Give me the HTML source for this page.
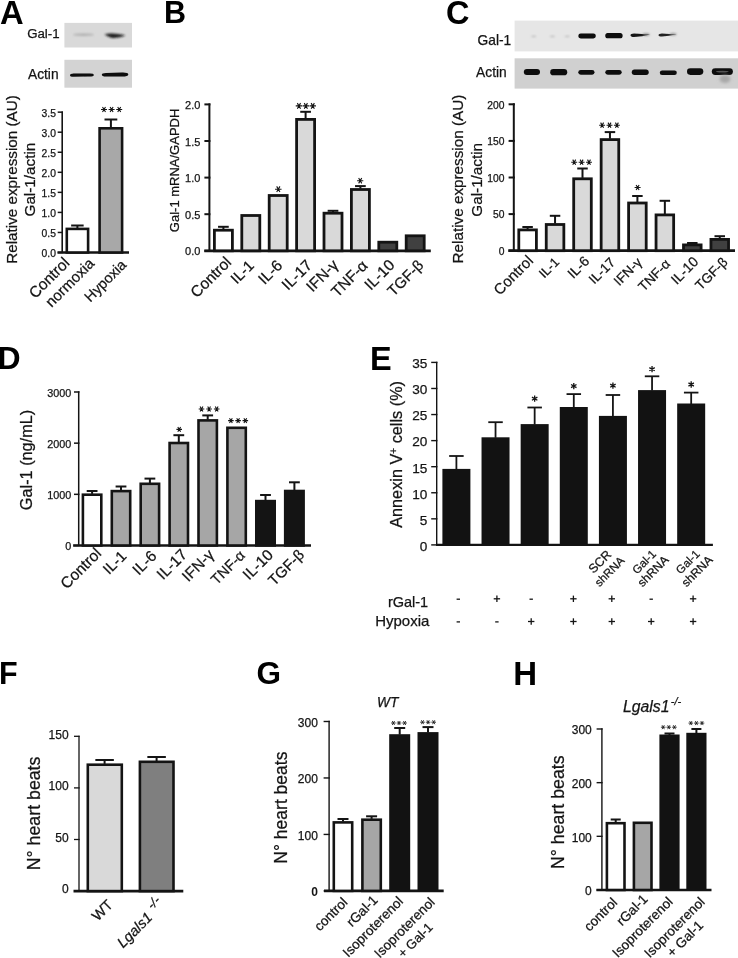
<!DOCTYPE html><html><head><meta charset="utf-8"><style>html,body{margin:0;padding:0;background:#fff;width:738px;height:958px;overflow:hidden}svg{display:block;filter:grayscale(1)}text{font-family:"Liberation Sans",sans-serif}</style></head><body><svg width="738" height="958" viewBox="0 0 738 958" font-family="Liberation Sans, sans-serif">
<defs><filter id="bl" x="-50%" y="-100%" width="200%" height="300%"><feGaussianBlur stdDeviation="0.8"/></filter><filter id="bl3" x="-50%" y="-100%" width="200%" height="300%"><feGaussianBlur stdDeviation="0.55"/></filter><filter id="bl2" x="-50%" y="-100%" width="200%" height="300%"><feGaussianBlur stdDeviation="1.5"/></filter></defs>
<rect width="738" height="958" fill="#fff"/>
<text x="-0.10" y="23.60" font-size="32.75" text-anchor="start" font-weight="bold" fill="#000">A</text>
<rect x="64.40" y="22.90" width="67.60" height="24.60" fill="#d9d9d9"/>
<rect x="64.40" y="59.80" width="67.60" height="27.90" fill="#d3d3d3"/>
<text x="27.20" y="37.50" font-size="13.25" text-anchor="start" fill="#141414" stroke="#141414" stroke-width="0.25">Gal-1</text>
<text x="28.00" y="78.50" font-size="13.75" text-anchor="start" fill="#141414" stroke="#141414" stroke-width="0.25">Actin</text>
<ellipse cx="83.5" cy="34.7" rx="10.5" ry="1.3" fill="#b0b0b0" filter="url(#bl)"/>
<path d="M104.5,34.2 Q113,32.6 125.5,35.2 Q119,38.6 112,38 Q107,36.6 104.5,34.2Z" fill="#1c1c1c" filter="url(#bl)"/>
<path d="M70,75.2 Q70,73.4 74,73.5 L88,73.6 Q93.8,73.2 93.8,75.0 Q93.8,76.8 88,76.6 L74,76.7 Q70,76.8 70,75.2Z" fill="#0c0c0c" filter="url(#bl3)"/>
<path d="M101.8,74.8 Q101.8,73.2 106,73.1 L122,72.6 Q128.3,72.4 128.3,74.4 Q128.3,76.5 122,76.5 L106,76.6 Q101.8,76.6 101.8,74.8Z" fill="#0c0c0c" filter="url(#bl3)"/>
<line x1="62.20" y1="111.40" x2="62.20" y2="252.50" stroke="#141414" stroke-width="1.6"/>
<line x1="57.70" y1="252.50" x2="63.00" y2="252.50" stroke="#141414" stroke-width="1.5"/>
<text x="55.90" y="256.89" font-size="10.3" text-anchor="end" fill="#141414" stroke="#141414" stroke-width="0.25">0.0</text>
<line x1="57.70" y1="232.45" x2="63.00" y2="232.45" stroke="#141414" stroke-width="1.5"/>
<text x="55.90" y="236.84" font-size="10.3" text-anchor="end" fill="#141414" stroke="#141414" stroke-width="0.25">0.5</text>
<line x1="57.70" y1="212.40" x2="63.00" y2="212.40" stroke="#141414" stroke-width="1.5"/>
<text x="55.90" y="216.79" font-size="10.3" text-anchor="end" fill="#141414" stroke="#141414" stroke-width="0.25">1.0</text>
<line x1="57.70" y1="192.35" x2="63.00" y2="192.35" stroke="#141414" stroke-width="1.5"/>
<text x="55.90" y="196.74" font-size="10.3" text-anchor="end" fill="#141414" stroke="#141414" stroke-width="0.25">1.5</text>
<line x1="57.70" y1="172.30" x2="63.00" y2="172.30" stroke="#141414" stroke-width="1.5"/>
<text x="55.90" y="176.69" font-size="10.3" text-anchor="end" fill="#141414" stroke="#141414" stroke-width="0.25">2.0</text>
<line x1="57.70" y1="152.25" x2="63.00" y2="152.25" stroke="#141414" stroke-width="1.5"/>
<text x="55.90" y="156.64" font-size="10.3" text-anchor="end" fill="#141414" stroke="#141414" stroke-width="0.25">2.5</text>
<line x1="57.70" y1="132.20" x2="63.00" y2="132.20" stroke="#141414" stroke-width="1.5"/>
<text x="55.90" y="136.59" font-size="10.3" text-anchor="end" fill="#141414" stroke="#141414" stroke-width="0.25">3.0</text>
<line x1="57.70" y1="112.15" x2="63.00" y2="112.15" stroke="#141414" stroke-width="1.5"/>
<text x="55.90" y="116.54" font-size="10.3" text-anchor="end" fill="#141414" stroke="#141414" stroke-width="0.25">3.5</text>
<line x1="57.50" y1="252.50" x2="129.00" y2="252.50" stroke="#141414" stroke-width="2.4"/>
<rect x="66.80" y="228.90" width="21.30" height="23.60" fill="#fff" stroke="#141414" stroke-width="2.6"/>
<line x1="77.40" y1="228.10" x2="77.40" y2="225.50" stroke="#141414" stroke-width="2.0"/>
<line x1="71.15" y1="225.50" x2="83.65" y2="225.50" stroke="#141414" stroke-width="2.0"/>
<rect x="99.60" y="128.30" width="22.50" height="124.20" fill="#a8a8a8" stroke="#141414" stroke-width="2.6"/>
<line x1="110.90" y1="127.50" x2="110.90" y2="119.50" stroke="#141414" stroke-width="2.0"/>
<line x1="104.50" y1="119.50" x2="117.30" y2="119.50" stroke="#141414" stroke-width="2.0"/>
<path d="M101.00,109.50L107.00,109.50M102.50,106.90L105.50,112.10M105.50,106.90L102.50,112.10" stroke="#141414" stroke-width="1.1" fill="none"/>
<path d="M108.60,109.50L114.60,109.50M110.10,106.90L113.10,112.10M113.10,106.90L110.10,112.10" stroke="#141414" stroke-width="1.1" fill="none"/>
<path d="M116.20,109.50L122.20,109.50M117.70,106.90L120.70,112.10M120.70,106.90L117.70,112.10" stroke="#141414" stroke-width="1.1" fill="none"/>
<text x="0.00" y="0.00" font-size="15.25" text-anchor="middle" fill="#141414" stroke="#141414" stroke-width="0.25" transform="translate(16.80,179.50) rotate(-90)">Relative expression (AU)</text>
<text x="0.00" y="0.00" font-size="15.25" text-anchor="middle" fill="#141414" stroke="#141414" stroke-width="0.25" transform="translate(35.20,179.60) rotate(-90)">Gal-1/actin</text>
<text x="0.00" y="0.00" font-size="15.5" text-anchor="end" fill="#141414" stroke="#141414" stroke-width="0.25" transform="translate(70.50,263.90) rotate(-45)">Control</text>
<text x="0.00" y="0.00" font-size="15.0" text-anchor="end" fill="#141414" stroke="#141414" stroke-width="0.25" transform="translate(95.20,264.40) rotate(-45)">normoxia</text>
<text x="0.00" y="0.00" font-size="14.5" text-anchor="end" fill="#141414" stroke="#141414" stroke-width="0.25" transform="translate(127.30,265.70) rotate(-45)">Hypoxia</text>
<text x="164.10" y="23.40" font-size="30.5" text-anchor="start" font-weight="bold" fill="#000">B</text>
<line x1="209.40" y1="103.40" x2="209.40" y2="250.80" stroke="#141414" stroke-width="2.0"/>
<line x1="204.40" y1="250.80" x2="210.40" y2="250.80" stroke="#141414" stroke-width="2.0"/>
<text x="200.40" y="255.44" font-size="11" text-anchor="end" fill="#141414" stroke="#141414" stroke-width="0.25">0.0</text>
<line x1="204.40" y1="214.20" x2="210.40" y2="214.20" stroke="#141414" stroke-width="2.0"/>
<text x="200.40" y="218.84" font-size="11" text-anchor="end" fill="#141414" stroke="#141414" stroke-width="0.25">0.5</text>
<line x1="204.40" y1="177.60" x2="210.40" y2="177.60" stroke="#141414" stroke-width="2.0"/>
<text x="200.40" y="182.24" font-size="11" text-anchor="end" fill="#141414" stroke="#141414" stroke-width="0.25">1.0</text>
<line x1="204.40" y1="141.00" x2="210.40" y2="141.00" stroke="#141414" stroke-width="2.0"/>
<text x="200.40" y="145.64" font-size="11" text-anchor="end" fill="#141414" stroke="#141414" stroke-width="0.25">1.5</text>
<line x1="204.40" y1="104.40" x2="210.40" y2="104.40" stroke="#141414" stroke-width="2.0"/>
<text x="200.40" y="109.04" font-size="11" text-anchor="end" fill="#141414" stroke="#141414" stroke-width="0.25">2.0</text>
<line x1="204.30" y1="250.80" x2="430.80" y2="250.80" stroke="#141414" stroke-width="2.8"/>
<rect x="214.40" y="230.20" width="18.00" height="20.60" fill="#fff" stroke="#141414" stroke-width="2.8"/>
<line x1="223.40" y1="229.30" x2="223.40" y2="226.80" stroke="#141414" stroke-width="2.0"/>
<line x1="218.05" y1="226.80" x2="228.75" y2="226.80" stroke="#141414" stroke-width="2.0"/>
<rect x="241.80" y="215.50" width="18.00" height="35.30" fill="#d9d9d9" stroke="#141414" stroke-width="2.8"/>
<rect x="269.20" y="195.50" width="18.00" height="55.30" fill="#d9d9d9" stroke="#141414" stroke-width="2.8"/>
<rect x="296.60" y="119.40" width="18.00" height="131.40" fill="#d9d9d9" stroke="#141414" stroke-width="2.8"/>
<line x1="305.60" y1="118.50" x2="305.60" y2="111.80" stroke="#141414" stroke-width="2.0"/>
<line x1="300.25" y1="111.80" x2="310.95" y2="111.80" stroke="#141414" stroke-width="2.0"/>
<rect x="324.00" y="213.20" width="18.00" height="37.60" fill="#d9d9d9" stroke="#141414" stroke-width="2.8"/>
<line x1="333.00" y1="212.30" x2="333.00" y2="210.80" stroke="#141414" stroke-width="2.0"/>
<line x1="327.65" y1="210.80" x2="338.35" y2="210.80" stroke="#141414" stroke-width="2.0"/>
<rect x="351.40" y="189.50" width="18.00" height="61.30" fill="#d9d9d9" stroke="#141414" stroke-width="2.8"/>
<line x1="360.40" y1="188.60" x2="360.40" y2="186.10" stroke="#141414" stroke-width="2.0"/>
<line x1="355.05" y1="186.10" x2="365.75" y2="186.10" stroke="#141414" stroke-width="2.0"/>
<rect x="378.80" y="242.20" width="18.00" height="8.60" fill="#404040" stroke="#141414" stroke-width="2.8"/>
<rect x="406.20" y="235.80" width="18.00" height="15.00" fill="#404040" stroke="#141414" stroke-width="2.8"/>
<path d="M275.05,189.20L281.55,189.20M276.68,186.39L279.93,192.01M279.93,186.39L276.68,192.01" stroke="#141414" stroke-width="1.1" fill="none"/>
<path d="M295.75,105.90L302.15,105.90M297.35,103.13L300.55,108.67M300.55,103.13L297.35,108.67" stroke="#141414" stroke-width="1.1" fill="none"/>
<path d="M302.65,105.90L309.05,105.90M304.25,103.13L307.45,108.67M307.45,103.13L304.25,108.67" stroke="#141414" stroke-width="1.1" fill="none"/>
<path d="M309.55,105.90L315.95,105.90M311.15,103.13L314.35,108.67M314.35,103.13L311.15,108.67" stroke="#141414" stroke-width="1.1" fill="none"/>
<path d="M357.10,180.70L363.30,180.70M358.65,178.02L361.75,183.38M361.75,178.02L358.65,183.38" stroke="#141414" stroke-width="1.1" fill="none"/>
<text x="0.00" y="0.00" font-size="13.0" text-anchor="middle" fill="#141414" stroke="#141414" stroke-width="0.25" transform="translate(178.60,170.40) rotate(-90)">Gal-1 mRNA/GAPDH</text>
<text x="0.00" y="0.00" font-size="15.5" text-anchor="end" fill="#141414" stroke="#141414" stroke-width="0.25" transform="translate(232.20,263.20) rotate(-45)">Control</text>
<text x="0.00" y="0.00" font-size="15.0" text-anchor="end" fill="#141414" stroke="#141414" stroke-width="0.25" transform="translate(255.00,266.50) rotate(-45)">IL-1</text>
<text x="0.00" y="0.00" font-size="15.5" text-anchor="end" fill="#141414" stroke="#141414" stroke-width="0.25" transform="translate(283.40,266.40) rotate(-45)">IL-6</text>
<text x="0.00" y="0.00" font-size="15.5" text-anchor="end" fill="#141414" stroke="#141414" stroke-width="0.25" transform="translate(313.10,266.10) rotate(-45)">IL-17</text>
<text x="0.00" y="0.00" font-size="15.5" text-anchor="end" fill="#141414" stroke="#141414" stroke-width="0.25" transform="translate(339.20,265.90) rotate(-45)">IFN-γ</text>
<text x="0.00" y="0.00" font-size="15.5" text-anchor="end" fill="#141414" stroke="#141414" stroke-width="0.25" transform="translate(368.70,266.60) rotate(-45)">TNF-α</text>
<text x="0.00" y="0.00" font-size="15.5" text-anchor="end" fill="#141414" stroke="#141414" stroke-width="0.25" transform="translate(395.70,266.00) rotate(-45)">IL-10</text>
<text x="0.00" y="0.00" font-size="15.0" text-anchor="end" fill="#141414" stroke="#141414" stroke-width="0.25" transform="translate(424.40,266.10) rotate(-45)">TGF-β</text>
<text x="446.10" y="23.90" font-size="32.5" text-anchor="start" font-weight="bold" fill="#000">C</text>
<rect x="514.60" y="20.60" width="223.40" height="30.80" fill="#e6e6e6"/>
<rect x="514.60" y="58.30" width="223.40" height="30.30" fill="#d0d0d0"/>
<text x="477.60" y="44.50" font-size="13.75" text-anchor="start" fill="#141414" stroke="#141414" stroke-width="0.25">Gal-1</text>
<text x="476.10" y="77.00" font-size="13.75" text-anchor="start" fill="#141414" stroke="#141414" stroke-width="0.25">Actin</text>
<ellipse cx="533.7" cy="36.4" rx="2.6" ry="0.7" fill="#b4b4b4" filter="url(#bl)"/>
<ellipse cx="552.4" cy="36.4" rx="2.6" ry="0.7" fill="#b4b4b4" filter="url(#bl)"/>
<ellipse cx="567.2" cy="36.4" rx="2.6" ry="0.7" fill="#b4b4b4" filter="url(#bl)"/>
<rect x="578.30" y="33.60" width="17.50" height="4.90" rx="2.45" ry="2.45" fill="#0a0a0a" filter="url(#bl3)"/>
<rect x="605.30" y="33.10" width="17.30" height="5.20" rx="2.60" ry="2.60" fill="#070707" filter="url(#bl3)"/>
<path d="M630.5,35.2 Q630.5,33.4 634,33.4 Q642,33.8 650,34.4 Q642,36.4 634,37.0 Q630.5,37.0 630.5,35.2Z" fill="#151515" filter="url(#bl3)"/>
<path d="M658.5,35.0 Q658.5,33.4 662,33.4 Q669,33.8 676.6,34.3 Q669,36.0 662,36.6 Q658.5,36.6 658.5,35.0Z" fill="#222" filter="url(#bl3)"/>
<ellipse cx="646" cy="34.5" rx="3.5" ry="1.0" fill="#777" filter="url(#bl)"/>
<ellipse cx="673" cy="34.3" rx="3.5" ry="1.0" fill="#888" filter="url(#bl)"/>
<rect x="523.80" y="69.00" width="16.20" height="6.00" rx="3.00" ry="3.00" fill="#0c0c0c" filter="url(#bl3)"/>
<rect x="550.20" y="69.00" width="17.00" height="6.30" rx="3.15" ry="3.15" fill="#0c0c0c" filter="url(#bl3)"/>
<rect x="578.30" y="69.90" width="16.20" height="4.80" rx="2.40" ry="2.40" fill="#0c0c0c" filter="url(#bl3)"/>
<rect x="605.30" y="69.90" width="16.40" height="4.80" rx="2.40" ry="2.40" fill="#0c0c0c" filter="url(#bl3)"/>
<rect x="631.80" y="69.60" width="16.90" height="5.30" rx="2.65" ry="2.65" fill="#0c0c0c" filter="url(#bl3)"/>
<rect x="659.80" y="70.40" width="17.00" height="4.60" rx="2.30" ry="2.30" fill="#0c0c0c" filter="url(#bl3)"/>
<rect x="687.00" y="68.30" width="16.30" height="6.60" rx="3.30" ry="3.30" fill="#0c0c0c" filter="url(#bl3)"/>
<rect x="711.80" y="68.20" width="21.10" height="6.80" rx="3.40" ry="3.40" fill="#0c0c0c" filter="url(#bl3)"/>
<ellipse cx="722.3" cy="71.6" rx="6.5" ry="0.9" fill="#555" filter="url(#bl3)"/>
<ellipse cx="725" cy="79" rx="5.5" ry="4" fill="#a8a8a8" filter="url(#bl2)"/>
<line x1="513.80" y1="103.30" x2="513.80" y2="250.70" stroke="#141414" stroke-width="2.0"/>
<line x1="508.60" y1="250.70" x2="514.80" y2="250.70" stroke="#141414" stroke-width="2.0"/>
<text x="504.50" y="255.09" font-size="10.3" text-anchor="end" fill="#141414" stroke="#141414" stroke-width="0.25">0</text>
<line x1="508.60" y1="214.10" x2="514.80" y2="214.10" stroke="#141414" stroke-width="2.0"/>
<text x="504.50" y="218.49" font-size="10.3" text-anchor="end" fill="#141414" stroke="#141414" stroke-width="0.25">50</text>
<line x1="508.60" y1="177.50" x2="514.80" y2="177.50" stroke="#141414" stroke-width="2.0"/>
<text x="504.50" y="181.89" font-size="10.3" text-anchor="end" fill="#141414" stroke="#141414" stroke-width="0.25">100</text>
<line x1="508.60" y1="140.90" x2="514.80" y2="140.90" stroke="#141414" stroke-width="2.0"/>
<text x="504.50" y="145.29" font-size="10.3" text-anchor="end" fill="#141414" stroke="#141414" stroke-width="0.25">150</text>
<line x1="508.60" y1="104.30" x2="514.80" y2="104.30" stroke="#141414" stroke-width="2.0"/>
<text x="504.50" y="108.69" font-size="10.3" text-anchor="end" fill="#141414" stroke="#141414" stroke-width="0.25">200</text>
<line x1="508.30" y1="250.70" x2="735.00" y2="250.70" stroke="#141414" stroke-width="2.8"/>
<rect x="518.80" y="229.90" width="17.60" height="20.80" fill="#fff" stroke="#141414" stroke-width="2.8"/>
<line x1="527.60" y1="229.00" x2="527.60" y2="227.00" stroke="#141414" stroke-width="2.0"/>
<line x1="522.35" y1="227.00" x2="532.85" y2="227.00" stroke="#141414" stroke-width="2.0"/>
<rect x="546.25" y="224.50" width="17.60" height="26.20" fill="#d9d9d9" stroke="#141414" stroke-width="2.8"/>
<line x1="555.05" y1="223.60" x2="555.05" y2="215.80" stroke="#141414" stroke-width="2.0"/>
<line x1="549.80" y1="215.80" x2="560.30" y2="215.80" stroke="#141414" stroke-width="2.0"/>
<rect x="573.70" y="178.80" width="17.60" height="71.90" fill="#d9d9d9" stroke="#141414" stroke-width="2.8"/>
<line x1="582.50" y1="177.90" x2="582.50" y2="168.50" stroke="#141414" stroke-width="2.0"/>
<line x1="577.25" y1="168.50" x2="587.75" y2="168.50" stroke="#141414" stroke-width="2.0"/>
<rect x="601.15" y="139.60" width="17.60" height="111.10" fill="#d9d9d9" stroke="#141414" stroke-width="2.8"/>
<line x1="609.95" y1="138.70" x2="609.95" y2="132.10" stroke="#141414" stroke-width="2.0"/>
<line x1="604.70" y1="132.10" x2="615.20" y2="132.10" stroke="#141414" stroke-width="2.0"/>
<rect x="628.60" y="203.00" width="17.60" height="47.70" fill="#d9d9d9" stroke="#141414" stroke-width="2.8"/>
<line x1="637.40" y1="202.10" x2="637.40" y2="196.00" stroke="#141414" stroke-width="2.0"/>
<line x1="632.15" y1="196.00" x2="642.65" y2="196.00" stroke="#141414" stroke-width="2.0"/>
<rect x="656.05" y="214.90" width="17.60" height="35.80" fill="#d9d9d9" stroke="#141414" stroke-width="2.8"/>
<line x1="664.85" y1="214.00" x2="664.85" y2="200.80" stroke="#141414" stroke-width="2.0"/>
<line x1="659.60" y1="200.80" x2="670.10" y2="200.80" stroke="#141414" stroke-width="2.0"/>
<rect x="683.50" y="244.90" width="17.60" height="5.80" fill="#404040" stroke="#141414" stroke-width="2.8"/>
<line x1="692.30" y1="244.00" x2="692.30" y2="243.00" stroke="#141414" stroke-width="2.0"/>
<line x1="687.05" y1="243.00" x2="697.55" y2="243.00" stroke="#141414" stroke-width="2.0"/>
<rect x="710.95" y="239.40" width="17.60" height="11.30" fill="#404040" stroke="#141414" stroke-width="2.8"/>
<line x1="719.75" y1="238.50" x2="719.75" y2="236.20" stroke="#141414" stroke-width="2.0"/>
<line x1="714.50" y1="236.20" x2="725.00" y2="236.20" stroke="#141414" stroke-width="2.0"/>
<path d="M571.25,162.20L577.15,162.20M572.73,159.65L575.68,164.75M575.68,159.65L572.73,164.75" stroke="#141414" stroke-width="1.1" fill="none"/>
<path d="M578.65,162.20L584.55,162.20M580.12,159.65L583.08,164.75M583.08,159.65L580.12,164.75" stroke="#141414" stroke-width="1.1" fill="none"/>
<path d="M586.05,162.20L591.95,162.20M587.52,159.65L590.48,164.75M590.48,159.65L587.52,164.75" stroke="#141414" stroke-width="1.1" fill="none"/>
<path d="M599.15,125.20L605.05,125.20M600.62,122.65L603.58,127.75M603.58,122.65L600.62,127.75" stroke="#141414" stroke-width="1.1" fill="none"/>
<path d="M606.55,125.20L612.45,125.20M608.02,122.65L610.98,127.75M610.98,122.65L608.02,127.75" stroke="#141414" stroke-width="1.1" fill="none"/>
<path d="M613.95,125.20L619.85,125.20M615.42,122.65L618.38,127.75M618.38,122.65L615.42,127.75" stroke="#141414" stroke-width="1.1" fill="none"/>
<path d="M634.60,187.50L640.60,187.50M636.10,184.90L639.10,190.10M639.10,184.90L636.10,190.10" stroke="#141414" stroke-width="1.1" fill="none"/>
<text x="0.00" y="0.00" font-size="15.25" text-anchor="middle" fill="#141414" stroke="#141414" stroke-width="0.25" transform="translate(463.30,179.10) rotate(-90)">Relative expression (AU)</text>
<text x="0.00" y="0.00" font-size="15.25" text-anchor="middle" fill="#141414" stroke="#141414" stroke-width="0.25" transform="translate(481.90,179.80) rotate(-90)">Gal-1/actin</text>
<text x="0.00" y="0.00" font-size="15.0" text-anchor="end" fill="#141414" stroke="#141414" stroke-width="0.25" transform="translate(534.00,261.70) rotate(-45)">Control</text>
<text x="0.00" y="0.00" font-size="13.0" text-anchor="end" fill="#141414" stroke="#141414" stroke-width="0.25" transform="translate(560.00,263.00) rotate(-45)">IL-1</text>
<text x="0.00" y="0.00" font-size="14.0" text-anchor="end" fill="#141414" stroke="#141414" stroke-width="0.25" transform="translate(590.20,262.10) rotate(-45)">IL-6</text>
<text x="0.00" y="0.00" font-size="13.5" text-anchor="end" fill="#141414" stroke="#141414" stroke-width="0.25" transform="translate(616.10,263.10) rotate(-45)">IL-17</text>
<text x="0.00" y="0.00" font-size="13.5" text-anchor="end" fill="#141414" stroke="#141414" stroke-width="0.25" transform="translate(642.70,263.10) rotate(-45)">IFN-γ</text>
<text x="0.00" y="0.00" font-size="13.5" text-anchor="end" fill="#141414" stroke="#141414" stroke-width="0.25" transform="translate(671.10,264.80) rotate(-45)">TNF-α</text>
<text x="0.00" y="0.00" font-size="14.0" text-anchor="end" fill="#141414" stroke="#141414" stroke-width="0.25" transform="translate(699.20,262.60) rotate(-45)">IL-10</text>
<text x="0.00" y="0.00" font-size="13.5" text-anchor="end" fill="#141414" stroke="#141414" stroke-width="0.25" transform="translate(728.50,263.00) rotate(-45)">TGF-β</text>
<text x="-2.60" y="369.10" font-size="32" text-anchor="start" font-weight="bold" fill="#000">D</text>
<line x1="78.70" y1="391.24" x2="78.70" y2="545.50" stroke="#141414" stroke-width="1.5"/>
<line x1="74.00" y1="545.50" x2="79.45" y2="545.50" stroke="#141414" stroke-width="1.5"/>
<text x="71.30" y="550.07" font-size="10.8" text-anchor="end" fill="#141414" stroke="#141414" stroke-width="0.25">0</text>
<line x1="74.00" y1="494.33" x2="79.45" y2="494.33" stroke="#141414" stroke-width="1.5"/>
<text x="71.30" y="498.90" font-size="10.8" text-anchor="end" fill="#141414" stroke="#141414" stroke-width="0.25">1000</text>
<line x1="74.00" y1="443.16" x2="79.45" y2="443.16" stroke="#141414" stroke-width="1.5"/>
<text x="71.30" y="447.73" font-size="10.8" text-anchor="end" fill="#141414" stroke="#141414" stroke-width="0.25">2000</text>
<line x1="74.00" y1="391.99" x2="79.45" y2="391.99" stroke="#141414" stroke-width="1.5"/>
<text x="71.30" y="396.56" font-size="10.8" text-anchor="end" fill="#141414" stroke="#141414" stroke-width="0.25">3000</text>
<line x1="73.10" y1="545.50" x2="311.00" y2="545.50" stroke="#141414" stroke-width="2.6"/>
<rect x="82.90" y="494.70" width="18.40" height="50.80" fill="#fff" stroke="#141414" stroke-width="2.6"/>
<line x1="92.10" y1="493.90" x2="92.10" y2="491.00" stroke="#141414" stroke-width="2.0"/>
<line x1="86.70" y1="491.00" x2="97.50" y2="491.00" stroke="#141414" stroke-width="2.0"/>
<rect x="111.80" y="491.10" width="18.40" height="54.40" fill="#a6a6a6" stroke="#141414" stroke-width="2.6"/>
<line x1="121.00" y1="490.30" x2="121.00" y2="486.50" stroke="#141414" stroke-width="2.0"/>
<line x1="115.60" y1="486.50" x2="126.40" y2="486.50" stroke="#141414" stroke-width="2.0"/>
<rect x="140.70" y="483.80" width="18.40" height="61.70" fill="#a6a6a6" stroke="#141414" stroke-width="2.6"/>
<line x1="149.90" y1="483.00" x2="149.90" y2="478.60" stroke="#141414" stroke-width="2.0"/>
<line x1="144.50" y1="478.60" x2="155.30" y2="478.60" stroke="#141414" stroke-width="2.0"/>
<rect x="169.60" y="443.00" width="18.40" height="102.50" fill="#a6a6a6" stroke="#141414" stroke-width="2.6"/>
<line x1="178.80" y1="442.20" x2="178.80" y2="435.20" stroke="#141414" stroke-width="2.0"/>
<line x1="173.40" y1="435.20" x2="184.20" y2="435.20" stroke="#141414" stroke-width="2.0"/>
<rect x="198.50" y="420.40" width="18.40" height="125.10" fill="#a6a6a6" stroke="#141414" stroke-width="2.6"/>
<line x1="207.70" y1="419.60" x2="207.70" y2="415.40" stroke="#141414" stroke-width="2.0"/>
<line x1="202.30" y1="415.40" x2="213.10" y2="415.40" stroke="#141414" stroke-width="2.0"/>
<rect x="227.40" y="427.80" width="18.40" height="117.70" fill="#a6a6a6" stroke="#141414" stroke-width="2.6"/>
<rect x="256.30" y="501.10" width="18.40" height="44.40" fill="#141414" stroke="#141414" stroke-width="2.6"/>
<line x1="265.50" y1="500.30" x2="265.50" y2="495.00" stroke="#141414" stroke-width="2.0"/>
<line x1="260.10" y1="495.00" x2="270.90" y2="495.00" stroke="#141414" stroke-width="2.0"/>
<rect x="285.20" y="491.00" width="18.40" height="54.50" fill="#141414" stroke="#141414" stroke-width="2.6"/>
<line x1="294.40" y1="490.20" x2="294.40" y2="482.30" stroke="#141414" stroke-width="2.0"/>
<line x1="289.00" y1="482.30" x2="299.80" y2="482.30" stroke="#141414" stroke-width="2.0"/>
<path d="M176.40,429.40L182.00,429.40M177.80,426.98L180.60,431.82M180.60,426.98L177.80,431.82" stroke="#141414" stroke-width="1.1" fill="none"/>
<path d="M198.70,409.00L204.30,409.00M200.10,406.58L202.90,411.42M202.90,406.58L200.10,411.42" stroke="#141414" stroke-width="1.1" fill="none"/>
<path d="M206.30,409.00L211.90,409.00M207.70,406.58L210.50,411.42M210.50,406.58L207.70,411.42" stroke="#141414" stroke-width="1.1" fill="none"/>
<path d="M213.90,409.00L219.50,409.00M215.30,406.58L218.10,411.42M218.10,406.58L215.30,411.42" stroke="#141414" stroke-width="1.1" fill="none"/>
<path d="M228.10,420.60L233.70,420.60M229.50,418.18L232.30,423.02M232.30,418.18L229.50,423.02" stroke="#141414" stroke-width="1.1" fill="none"/>
<path d="M235.30,420.60L240.90,420.60M236.70,418.18L239.50,423.02M239.50,418.18L236.70,423.02" stroke="#141414" stroke-width="1.1" fill="none"/>
<path d="M242.50,420.60L248.10,420.60M243.90,418.18L246.70,423.02M246.70,418.18L243.90,423.02" stroke="#141414" stroke-width="1.1" fill="none"/>
<text x="0.00" y="0.00" font-size="16.25" text-anchor="middle" fill="#141414" stroke="#141414" stroke-width="0.25" transform="translate(31.60,460.00) rotate(-90)">Gal-1 (ng/mL)</text>
<text x="0.00" y="0.00" font-size="15.5" text-anchor="end" fill="#141414" stroke="#141414" stroke-width="0.25" transform="translate(102.20,554.40) rotate(-45)">Control</text>
<text x="0.00" y="0.00" font-size="15.0" text-anchor="end" fill="#141414" stroke="#141414" stroke-width="0.25" transform="translate(127.40,557.00) rotate(-45)">IL-1</text>
<text x="0.00" y="0.00" font-size="15.5" text-anchor="end" fill="#141414" stroke="#141414" stroke-width="0.25" transform="translate(157.70,557.00) rotate(-45)">IL-6</text>
<text x="0.00" y="0.00" font-size="15.5" text-anchor="end" fill="#141414" stroke="#141414" stroke-width="0.25" transform="translate(188.10,555.50) rotate(-45)">IL-17</text>
<text x="0.00" y="0.00" font-size="15.5" text-anchor="end" fill="#141414" stroke="#141414" stroke-width="0.25" transform="translate(215.00,555.80) rotate(-45)">IFN-γ</text>
<text x="0.00" y="0.00" font-size="14.5" text-anchor="end" fill="#141414" stroke="#141414" stroke-width="0.25" transform="translate(246.00,556.20) rotate(-45)">TNF-α</text>
<text x="0.00" y="0.00" font-size="15.5" text-anchor="end" fill="#141414" stroke="#141414" stroke-width="0.25" transform="translate(274.10,555.80) rotate(-45)">IL-10</text>
<text x="0.00" y="0.00" font-size="15.0" text-anchor="end" fill="#141414" stroke="#141414" stroke-width="0.25" transform="translate(305.10,555.60) rotate(-45)">TGF-β</text>
<text x="370.10" y="369.60" font-size="32.5" text-anchor="start" font-weight="bold" fill="#000">E</text>
<line x1="436.70" y1="361.71" x2="436.70" y2="544.90" stroke="#141414" stroke-width="1.4"/>
<line x1="431.20" y1="544.90" x2="437.40" y2="544.90" stroke="#141414" stroke-width="1.4"/>
<text x="427.30" y="550.77" font-size="13.6" text-anchor="end" fill="#141414" stroke="#141414" stroke-width="0.25">0</text>
<line x1="431.20" y1="518.83" x2="437.40" y2="518.83" stroke="#141414" stroke-width="1.4"/>
<text x="427.30" y="524.70" font-size="13.6" text-anchor="end" fill="#141414" stroke="#141414" stroke-width="0.25">5</text>
<line x1="431.20" y1="492.76" x2="437.40" y2="492.76" stroke="#141414" stroke-width="1.4"/>
<text x="427.30" y="498.63" font-size="13.6" text-anchor="end" fill="#141414" stroke="#141414" stroke-width="0.25">10</text>
<line x1="431.20" y1="466.69" x2="437.40" y2="466.69" stroke="#141414" stroke-width="1.4"/>
<text x="427.30" y="472.56" font-size="13.6" text-anchor="end" fill="#141414" stroke="#141414" stroke-width="0.25">15</text>
<line x1="431.20" y1="440.62" x2="437.40" y2="440.62" stroke="#141414" stroke-width="1.4"/>
<text x="427.30" y="446.49" font-size="13.6" text-anchor="end" fill="#141414" stroke="#141414" stroke-width="0.25">20</text>
<line x1="431.20" y1="414.55" x2="437.40" y2="414.55" stroke="#141414" stroke-width="1.4"/>
<text x="427.30" y="420.42" font-size="13.6" text-anchor="end" fill="#141414" stroke="#141414" stroke-width="0.25">25</text>
<line x1="431.20" y1="388.48" x2="437.40" y2="388.48" stroke="#141414" stroke-width="1.4"/>
<text x="427.30" y="394.35" font-size="13.6" text-anchor="end" fill="#141414" stroke="#141414" stroke-width="0.25">30</text>
<line x1="431.20" y1="362.41" x2="437.40" y2="362.41" stroke="#141414" stroke-width="1.4"/>
<text x="427.30" y="368.28" font-size="13.6" text-anchor="end" fill="#141414" stroke="#141414" stroke-width="0.25">35</text>
<line x1="436.00" y1="544.90" x2="712.90" y2="544.90" stroke="#141414" stroke-width="2.4"/>
<rect x="442.40" y="468.90" width="28.00" height="76.00" fill="#121212"/>
<line x1="456.40" y1="469.40" x2="456.40" y2="456.00" stroke="#141414" stroke-width="1.8"/>
<line x1="449.15" y1="456.00" x2="463.65" y2="456.00" stroke="#141414" stroke-width="1.8"/>
<rect x="481.53" y="437.30" width="28.00" height="107.60" fill="#121212"/>
<line x1="495.53" y1="437.80" x2="495.53" y2="422.20" stroke="#141414" stroke-width="1.8"/>
<line x1="488.28" y1="422.20" x2="502.78" y2="422.20" stroke="#141414" stroke-width="1.8"/>
<rect x="520.66" y="424.10" width="28.00" height="120.80" fill="#121212"/>
<line x1="534.66" y1="424.60" x2="534.66" y2="407.50" stroke="#141414" stroke-width="1.8"/>
<line x1="527.41" y1="407.50" x2="541.91" y2="407.50" stroke="#141414" stroke-width="1.8"/>
<rect x="559.79" y="407.00" width="28.00" height="137.90" fill="#121212"/>
<line x1="573.79" y1="407.50" x2="573.79" y2="394.10" stroke="#141414" stroke-width="1.8"/>
<line x1="566.54" y1="394.10" x2="581.04" y2="394.10" stroke="#141414" stroke-width="1.8"/>
<rect x="598.92" y="415.90" width="28.00" height="129.00" fill="#121212"/>
<line x1="612.92" y1="416.40" x2="612.92" y2="395.00" stroke="#141414" stroke-width="1.8"/>
<line x1="605.67" y1="395.00" x2="620.17" y2="395.00" stroke="#141414" stroke-width="1.8"/>
<rect x="638.05" y="390.10" width="28.00" height="154.80" fill="#121212"/>
<line x1="652.05" y1="390.60" x2="652.05" y2="376.30" stroke="#141414" stroke-width="1.8"/>
<line x1="644.80" y1="376.30" x2="659.30" y2="376.30" stroke="#141414" stroke-width="1.8"/>
<rect x="677.18" y="403.50" width="28.00" height="141.40" fill="#121212"/>
<line x1="691.18" y1="404.00" x2="691.18" y2="392.60" stroke="#141414" stroke-width="1.8"/>
<line x1="683.93" y1="392.60" x2="698.43" y2="392.60" stroke="#141414" stroke-width="1.8"/>
<path d="M534.66,395.55L534.66,401.85M531.93,397.12L537.39,400.27M537.39,397.12L531.93,400.27" stroke="#141414" stroke-width="1.3" fill="none"/>
<path d="M573.79,382.95L573.79,389.25M571.06,384.53L576.52,387.68M576.52,384.53L571.06,387.68" stroke="#141414" stroke-width="1.3" fill="none"/>
<path d="M612.92,382.55L612.92,388.85M610.19,384.12L615.65,387.27M615.65,384.12L610.19,387.27" stroke="#141414" stroke-width="1.3" fill="none"/>
<path d="M652.05,366.05L652.05,372.35M649.32,367.62L654.78,370.77M654.78,367.62L649.32,370.77" stroke="#141414" stroke-width="1.3" fill="none"/>
<path d="M691.18,381.35L691.18,387.65M688.45,382.93L693.91,386.07M693.91,382.93L688.45,386.07" stroke="#141414" stroke-width="1.3" fill="none"/>
<text x="0.00" y="0.00" font-size="16.25" text-anchor="middle" fill="#141414" stroke="#141414" stroke-width="0.25" transform="translate(401.80,454.40) rotate(-90)">Annexin V<tspan font-size="0.62em" dy="-0.5em">+</tspan><tspan dy="0.31em"> cells (%)</tspan></text>
<text x="0.00" y="0.00" font-size="12.5" text-anchor="end" fill="#141414" stroke="#141414" stroke-width="0.25" transform="translate(612.10,555.40) rotate(-45)">SCR</text>
<text x="0.00" y="0.00" font-size="11.5" text-anchor="end" fill="#141414" stroke="#141414" stroke-width="0.25" transform="translate(625.20,561.40) rotate(-45)">shRNA</text>
<text x="0.00" y="0.00" font-size="11.5" text-anchor="end" fill="#141414" stroke="#141414" stroke-width="0.25" transform="translate(656.80,554.80) rotate(-45)">Gal-1</text>
<text x="0.00" y="0.00" font-size="12.0" text-anchor="end" fill="#141414" stroke="#141414" stroke-width="0.25" transform="translate(669.40,560.60) rotate(-45)">shRNA</text>
<text x="0.00" y="0.00" font-size="11.5" text-anchor="end" fill="#141414" stroke="#141414" stroke-width="0.25" transform="translate(700.50,554.80) rotate(-45)">Gal-1</text>
<text x="0.00" y="0.00" font-size="12.0" text-anchor="end" fill="#141414" stroke="#141414" stroke-width="0.25" transform="translate(713.30,560.60) rotate(-45)">shRNA</text>
<text x="387.90" y="607.20" font-size="14.5" text-anchor="start" fill="#141414" stroke="#141414" stroke-width="0.25">rGal-1</text>
<text x="375.20" y="626.00" font-size="15.0" text-anchor="start" fill="#141414" stroke="#141414" stroke-width="0.25">Hypoxia</text>
<line x1="456.60" y1="599.20" x2="460.00" y2="599.20" stroke="#141414" stroke-width="1.3"/>
<line x1="456.60" y1="621.90" x2="460.00" y2="621.90" stroke="#141414" stroke-width="1.3"/>
<line x1="493.70" y1="598.80" x2="500.10" y2="598.80" stroke="#141414" stroke-width="1.3"/>
<line x1="496.90" y1="595.60" x2="496.90" y2="602.00" stroke="#141414" stroke-width="1.3"/>
<line x1="495.20" y1="621.90" x2="498.60" y2="621.90" stroke="#141414" stroke-width="1.3"/>
<line x1="529.50" y1="599.20" x2="532.90" y2="599.20" stroke="#141414" stroke-width="1.3"/>
<line x1="528.00" y1="621.50" x2="534.40" y2="621.50" stroke="#141414" stroke-width="1.3"/>
<line x1="531.20" y1="618.30" x2="531.20" y2="624.70" stroke="#141414" stroke-width="1.3"/>
<line x1="570.20" y1="598.80" x2="576.60" y2="598.80" stroke="#141414" stroke-width="1.3"/>
<line x1="573.40" y1="595.60" x2="573.40" y2="602.00" stroke="#141414" stroke-width="1.3"/>
<line x1="570.20" y1="621.50" x2="576.60" y2="621.50" stroke="#141414" stroke-width="1.3"/>
<line x1="573.40" y1="618.30" x2="573.40" y2="624.70" stroke="#141414" stroke-width="1.3"/>
<line x1="608.60" y1="598.80" x2="615.00" y2="598.80" stroke="#141414" stroke-width="1.3"/>
<line x1="611.80" y1="595.60" x2="611.80" y2="602.00" stroke="#141414" stroke-width="1.3"/>
<line x1="608.60" y1="621.50" x2="615.00" y2="621.50" stroke="#141414" stroke-width="1.3"/>
<line x1="611.80" y1="618.30" x2="611.80" y2="624.70" stroke="#141414" stroke-width="1.3"/>
<line x1="649.50" y1="599.20" x2="652.90" y2="599.20" stroke="#141414" stroke-width="1.3"/>
<line x1="648.00" y1="621.50" x2="654.40" y2="621.50" stroke="#141414" stroke-width="1.3"/>
<line x1="651.20" y1="618.30" x2="651.20" y2="624.70" stroke="#141414" stroke-width="1.3"/>
<line x1="689.90" y1="598.80" x2="696.30" y2="598.80" stroke="#141414" stroke-width="1.3"/>
<line x1="693.10" y1="595.60" x2="693.10" y2="602.00" stroke="#141414" stroke-width="1.3"/>
<line x1="689.90" y1="621.50" x2="696.30" y2="621.50" stroke="#141414" stroke-width="1.3"/>
<line x1="693.10" y1="618.30" x2="693.10" y2="624.70" stroke="#141414" stroke-width="1.3"/>
<text x="-1.00" y="683.90" font-size="30.5" text-anchor="start" font-weight="bold" fill="#000">F</text>
<line x1="79.00" y1="735.65" x2="79.00" y2="891.10" stroke="#141414" stroke-width="1.3"/>
<line x1="74.00" y1="891.10" x2="79.65" y2="891.10" stroke="#141414" stroke-width="1.3"/>
<text x="68.60" y="893.30" font-size="12" text-anchor="end" fill="#141414" stroke="#141414" stroke-width="0.25">0</text>
<line x1="74.00" y1="839.50" x2="79.65" y2="839.50" stroke="#141414" stroke-width="1.3"/>
<text x="68.60" y="841.70" font-size="12" text-anchor="end" fill="#141414" stroke="#141414" stroke-width="0.25">50</text>
<line x1="74.00" y1="787.90" x2="79.65" y2="787.90" stroke="#141414" stroke-width="1.3"/>
<text x="68.60" y="790.10" font-size="12" text-anchor="end" fill="#141414" stroke="#141414" stroke-width="0.25">100</text>
<line x1="74.00" y1="736.30" x2="79.65" y2="736.30" stroke="#141414" stroke-width="1.3"/>
<text x="68.60" y="738.50" font-size="12" text-anchor="end" fill="#141414" stroke="#141414" stroke-width="0.25">150</text>
<line x1="73.50" y1="891.10" x2="183.30" y2="891.10" stroke="#141414" stroke-width="2.6"/>
<rect x="87.80" y="764.70" width="34.00" height="126.40" fill="#d9d9d9" stroke="#141414" stroke-width="2.6"/>
<line x1="104.60" y1="763.90" x2="104.60" y2="760.00" stroke="#141414" stroke-width="2.0"/>
<line x1="95.35" y1="760.00" x2="113.85" y2="760.00" stroke="#141414" stroke-width="2.0"/>
<rect x="139.90" y="761.80" width="33.60" height="129.30" fill="#7f7f7f" stroke="#141414" stroke-width="2.6"/>
<line x1="156.60" y1="761.00" x2="156.60" y2="757.00" stroke="#141414" stroke-width="2.0"/>
<line x1="147.35" y1="757.00" x2="165.85" y2="757.00" stroke="#141414" stroke-width="2.0"/>
<text x="0.00" y="0.00" font-size="17.75" text-anchor="middle" fill="#141414" stroke="#141414" stroke-width="0.25" transform="translate(40.00,813.40) rotate(-90)">N° heart beats</text>
<text x="0.00" y="0.00" font-size="14.5" text-anchor="end" fill="#141414" stroke="#141414" stroke-width="0.25" transform="translate(113.80,905.80) rotate(-45)">WT</text>
<text x="0.00" y="0.00" font-size="14.5" text-anchor="start" font-style="italic" fill="#141414" stroke="#141414" stroke-width="0.25" transform="translate(123.00,948.60) rotate(-45)">Lgals1<tspan font-size="13" dy="-6.6" dx="5.3">-/-</tspan></text>
<text x="256.50" y="684.20" font-size="31.5" text-anchor="start" font-weight="bold" fill="#000">G</text>
<text x="377.10" y="707.30" font-size="13.75" text-anchor="start" font-style="italic" fill="#141414" stroke="#141414" stroke-width="0.25">WT</text>
<line x1="329.10" y1="720.79" x2="329.10" y2="890.90" stroke="#141414" stroke-width="1.4"/>
<line x1="323.60" y1="890.90" x2="329.80" y2="890.90" stroke="#141414" stroke-width="1.4"/>
<text x="317.90" y="896.20" font-size="12" text-anchor="end" font-weight="bold" fill="#141414">0</text>
<line x1="323.60" y1="834.43" x2="329.80" y2="834.43" stroke="#141414" stroke-width="1.4"/>
<text x="317.90" y="839.73" font-size="12" text-anchor="end" fill="#141414" stroke="#141414" stroke-width="0.25">100</text>
<line x1="323.60" y1="777.96" x2="329.80" y2="777.96" stroke="#141414" stroke-width="1.4"/>
<text x="317.90" y="783.26" font-size="12" text-anchor="end" fill="#141414" stroke="#141414" stroke-width="0.25">200</text>
<line x1="323.60" y1="721.49" x2="329.80" y2="721.49" stroke="#141414" stroke-width="1.4"/>
<text x="317.90" y="726.79" font-size="12" text-anchor="end" fill="#141414" stroke="#141414" stroke-width="0.25">300</text>
<line x1="324.00" y1="890.90" x2="443.70" y2="890.90" stroke="#141414" stroke-width="2.6"/>
<rect x="333.80" y="822.40" width="18.40" height="68.50" fill="#fff" stroke="#141414" stroke-width="2.6"/>
<line x1="343.00" y1="821.60" x2="343.00" y2="819.00" stroke="#141414" stroke-width="2.0"/>
<line x1="337.50" y1="819.00" x2="348.50" y2="819.00" stroke="#141414" stroke-width="2.0"/>
<rect x="362.40" y="819.70" width="18.40" height="71.20" fill="#a6a6a6" stroke="#141414" stroke-width="2.6"/>
<line x1="371.60" y1="818.90" x2="371.60" y2="816.30" stroke="#141414" stroke-width="2.0"/>
<line x1="366.10" y1="816.30" x2="377.10" y2="816.30" stroke="#141414" stroke-width="2.0"/>
<rect x="389.20" y="734.20" width="21.00" height="156.70" fill="#121212"/>
<line x1="399.70" y1="734.70" x2="399.70" y2="728.00" stroke="#141414" stroke-width="2.0"/>
<line x1="394.20" y1="728.00" x2="405.20" y2="728.00" stroke="#141414" stroke-width="2.0"/>
<rect x="417.50" y="732.10" width="21.00" height="158.80" fill="#121212"/>
<line x1="428.00" y1="732.60" x2="428.00" y2="727.10" stroke="#141414" stroke-width="2.0"/>
<line x1="422.50" y1="727.10" x2="433.50" y2="727.10" stroke="#141414" stroke-width="2.0"/>
<path d="M391.10,723.00L395.70,723.00M392.25,721.01L394.55,724.99M394.55,721.01L392.25,724.99" stroke="#141414" stroke-width="0.85" fill="none"/>
<path d="M396.70,723.00L401.30,723.00M397.85,721.01L400.15,724.99M400.15,721.01L397.85,724.99" stroke="#141414" stroke-width="0.85" fill="none"/>
<path d="M402.30,723.00L406.90,723.00M403.45,721.01L405.75,724.99M405.75,721.01L403.45,724.99" stroke="#141414" stroke-width="0.85" fill="none"/>
<path d="M420.20,722.20L424.80,722.20M421.35,720.21L423.65,724.19M423.65,720.21L421.35,724.19" stroke="#141414" stroke-width="0.85" fill="none"/>
<path d="M425.80,722.20L430.40,722.20M426.95,720.21L429.25,724.19M429.25,720.21L426.95,724.19" stroke="#141414" stroke-width="0.85" fill="none"/>
<path d="M431.40,722.20L436.00,722.20M432.55,720.21L434.85,724.19M434.85,720.21L432.55,724.19" stroke="#141414" stroke-width="0.85" fill="none"/>
<text x="0.00" y="0.00" font-size="17.5" text-anchor="middle" fill="#141414" stroke="#141414" stroke-width="0.25" transform="translate(287.40,807.60) rotate(-90)">N° heart beats</text>
<text x="0.00" y="0.00" font-size="13.5" text-anchor="end" fill="#141414" stroke="#141414" stroke-width="0.25" transform="translate(348.40,903.20) rotate(-45)">control</text>
<text x="0.00" y="0.00" font-size="13.5" text-anchor="end" fill="#141414" stroke="#141414" stroke-width="0.25" transform="translate(378.50,901.00) rotate(-45)">rGal-1</text>
<text x="0.00" y="0.00" font-size="13.5" text-anchor="end" fill="#141414" stroke="#141414" stroke-width="0.25" transform="translate(404.00,902.20) rotate(-45)">Isoproterenol</text>
<text x="0.00" y="0.00" font-size="13.5" text-anchor="end" fill="#141414" stroke="#141414" stroke-width="0.25" transform="translate(435.60,903.00) rotate(-45)">Isoproterenol</text>
<text x="0.00" y="0.00" font-size="13.0" text-anchor="end" fill="#141414" stroke="#141414" stroke-width="0.25" transform="translate(433.60,928.20) rotate(-45)">+ Gal-1</text>
<text x="513.20" y="684.50" font-size="33.0" text-anchor="start" font-weight="bold" fill="#000">H</text>
<text x="623.00" y="711.80" font-size="15.8" text-anchor="start" font-style="italic" fill="#141414" stroke="#141414" stroke-width="0.25">Lgals1<tspan font-size="11" dy="-7" dx="1.2">-/-</tspan></text>
<line x1="601.90" y1="728.29" x2="601.90" y2="890.00" stroke="#141414" stroke-width="1.4"/>
<line x1="596.60" y1="890.00" x2="602.60" y2="890.00" stroke="#141414" stroke-width="1.4"/>
<text x="591.80" y="895.20" font-size="12" text-anchor="end" fill="#141414" stroke="#141414" stroke-width="0.25">0</text>
<line x1="596.60" y1="836.33" x2="602.60" y2="836.33" stroke="#141414" stroke-width="1.4"/>
<text x="591.80" y="841.53" font-size="12" text-anchor="end" fill="#141414" stroke="#141414" stroke-width="0.25">100</text>
<line x1="596.60" y1="782.66" x2="602.60" y2="782.66" stroke="#141414" stroke-width="1.4"/>
<text x="591.80" y="787.86" font-size="12" text-anchor="end" fill="#141414" stroke="#141414" stroke-width="0.25">200</text>
<line x1="596.60" y1="728.99" x2="602.60" y2="728.99" stroke="#141414" stroke-width="1.4"/>
<text x="591.80" y="734.19" font-size="12" text-anchor="end" fill="#141414" stroke="#141414" stroke-width="0.25">300</text>
<line x1="596.40" y1="890.00" x2="711.50" y2="890.00" stroke="#141414" stroke-width="2.6"/>
<rect x="606.90" y="823.20" width="17.60" height="66.80" fill="#fff" stroke="#141414" stroke-width="2.6"/>
<line x1="615.70" y1="822.40" x2="615.70" y2="819.50" stroke="#141414" stroke-width="2.0"/>
<line x1="610.70" y1="819.50" x2="620.70" y2="819.50" stroke="#141414" stroke-width="2.0"/>
<rect x="633.90" y="822.80" width="17.60" height="67.20" fill="#a6a6a6" stroke="#141414" stroke-width="2.6"/>
<rect x="659.40" y="734.50" width="20.20" height="155.50" fill="#121212"/>
<line x1="669.50" y1="735.00" x2="669.50" y2="733.50" stroke="#141414" stroke-width="2.0"/>
<line x1="664.50" y1="733.50" x2="674.50" y2="733.50" stroke="#141414" stroke-width="2.0"/>
<rect x="686.30" y="732.80" width="20.20" height="157.20" fill="#121212"/>
<line x1="696.40" y1="733.30" x2="696.40" y2="729.00" stroke="#141414" stroke-width="2.0"/>
<line x1="691.40" y1="729.00" x2="701.40" y2="729.00" stroke="#141414" stroke-width="2.0"/>
<path d="M660.90,727.20L665.50,727.20M662.05,725.21L664.35,729.19M664.35,725.21L662.05,729.19" stroke="#141414" stroke-width="0.85" fill="none"/>
<path d="M666.50,727.20L671.10,727.20M667.65,725.21L669.95,729.19M669.95,725.21L667.65,729.19" stroke="#141414" stroke-width="0.85" fill="none"/>
<path d="M672.10,727.20L676.70,727.20M673.25,725.21L675.55,729.19M675.55,725.21L673.25,729.19" stroke="#141414" stroke-width="0.85" fill="none"/>
<path d="M688.50,723.10L693.10,723.10M689.65,721.11L691.95,725.09M691.95,721.11L689.65,725.09" stroke="#141414" stroke-width="0.85" fill="none"/>
<path d="M694.10,723.10L698.70,723.10M695.25,721.11L697.55,725.09M697.55,721.11L695.25,725.09" stroke="#141414" stroke-width="0.85" fill="none"/>
<path d="M699.70,723.10L704.30,723.10M700.85,721.11L703.15,725.09M703.15,721.11L700.85,725.09" stroke="#141414" stroke-width="0.85" fill="none"/>
<text x="0.00" y="0.00" font-size="17.75" text-anchor="middle" fill="#141414" stroke="#141414" stroke-width="0.25" transform="translate(563.70,812.20) rotate(-90)">N° heart beats</text>
<text x="0.00" y="0.00" font-size="13.5" text-anchor="end" fill="#141414" stroke="#141414" stroke-width="0.25" transform="translate(618.20,903.30) rotate(-45)">control</text>
<text x="0.00" y="0.00" font-size="13.5" text-anchor="end" fill="#141414" stroke="#141414" stroke-width="0.25" transform="translate(648.50,900.00) rotate(-45)">rGal-1</text>
<text x="0.00" y="0.00" font-size="13.5" text-anchor="end" fill="#141414" stroke="#141414" stroke-width="0.25" transform="translate(673.60,902.60) rotate(-45)">Isoproterenol</text>
<text x="0.00" y="0.00" font-size="13.5" text-anchor="end" fill="#141414" stroke="#141414" stroke-width="0.25" transform="translate(705.60,902.80) rotate(-45)">Isoproterenol</text>
<text x="0.00" y="0.00" font-size="13.5" text-anchor="end" fill="#141414" stroke="#141414" stroke-width="0.25" transform="translate(704.10,926.10) rotate(-45)">+ Gal-1</text>
</svg></body></html>
